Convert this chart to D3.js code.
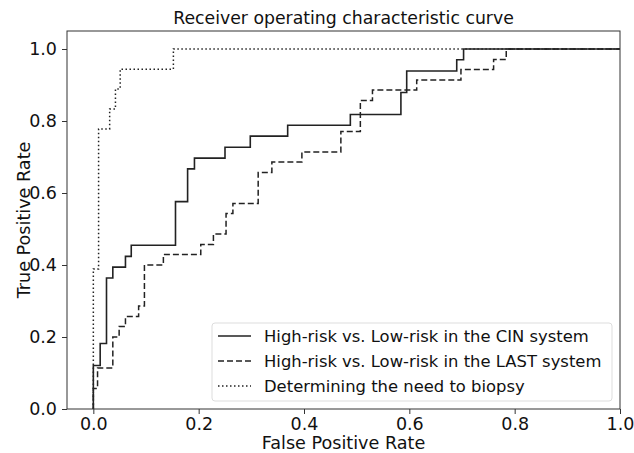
<!DOCTYPE html>
<html>
<head>
<meta charset="utf-8">
<script src="https://cdn.jsdelivr.net/npm/d3@7"></script>
<style>
  body { margin: 0; background: #fff; }
  text { font-family: "DejaVu Sans", sans-serif; fill: #111; }
</style>
</head>
<body>
<div id="chart"></div>
<script>
// ROC step curves: [fpr, tpr]
const cinCurve = [
  [0, 0], [0, 0.121], [0.013, 0.121], [0.013, 0.182], [0.025, 0.182], [0.025, 0.364],
  [0.037, 0.364], [0.037, 0.394], [0.061, 0.394], [0.061, 0.424], [0.072, 0.424],
  [0.072, 0.455], [0.156, 0.455], [0.156, 0.576], [0.179, 0.576], [0.179, 0.667],
  [0.192, 0.667], [0.192, 0.697], [0.25, 0.697], [0.25, 0.727], [0.298, 0.727],
  [0.298, 0.758], [0.369, 0.758], [0.369, 0.788], [0.488, 0.788], [0.488, 0.818],
  [0.584, 0.818], [0.584, 0.879], [0.595, 0.879], [0.595, 0.939], [0.69, 0.939],
  [0.69, 0.97], [0.703, 0.97], [0.703, 1], [1, 1]
];
const lastCurve = [
  [0, 0], [0, 0.057], [0.008, 0.057], [0.008, 0.114], [0.037, 0.114], [0.037, 0.2],
  [0.049, 0.2], [0.049, 0.229], [0.061, 0.229], [0.061, 0.257], [0.086, 0.257],
  [0.086, 0.286], [0.097, 0.286], [0.097, 0.4], [0.133, 0.4], [0.133, 0.429],
  [0.204, 0.429], [0.204, 0.457], [0.228, 0.457], [0.228, 0.486], [0.252, 0.486],
  [0.252, 0.543], [0.265, 0.543], [0.265, 0.571], [0.313, 0.571], [0.313, 0.657],
  [0.339, 0.657], [0.339, 0.686], [0.396, 0.686], [0.396, 0.714], [0.47, 0.714],
  [0.47, 0.771], [0.507, 0.771], [0.507, 0.857], [0.53, 0.857], [0.53, 0.886],
  [0.614, 0.886], [0.614, 0.914], [0.698, 0.914], [0.698, 0.943], [0.76, 0.943],
  [0.76, 0.971], [0.784, 0.971], [0.784, 1], [1, 1]
];
const biopsyCurve = [
  [0, 0], [0, 0.389], [0.01, 0.389], [0.01, 0.778], [0.031, 0.778], [0.031, 0.833],
  [0.042, 0.833], [0.042, 0.889], [0.051, 0.889], [0.051, 0.944], [0.152, 0.944],
  [0.152, 1], [1, 1]
];
const seriesNames = [
  "High-risk vs. Low-risk in the CIN system",
  "High-risk vs. Low-risk in the LAST system",
  "Determining the need to biopsy"
];
const tickValues = [0, 0.2, 0.4, 0.6, 0.8, 1.0];

const W = 634, H = 453;
const m = { left: 67, right: 14, top: 31, bottom: 44 };

const svg = d3.select("#chart").append("svg")
  .attr("width", W).attr("height", H);

const x = d3.scaleLinear().domain([-0.05, 1.0]).range([m.left, W - m.right]);
const y = d3.scaleLinear().domain([0, 1.05]).range([H - m.bottom, m.top]);

// lines
const line = d3.line().x(d => x(d[0])).y(d => y(d[1]));
const styles = [
  { dash: null, width: 1.6 },
  { dash: "6,3", width: 1.5 },
  { dash: "1.5,2.5", width: 1.5 }
];
[cinCurve, lastCurve, biopsyCurve].forEach((c, i) => {
  svg.append("path")
    .datum(c)
    .attr("d", line)
    .attr("fill", "none")
    .attr("stroke", "#222")
    .attr("stroke-width", styles[i].width)
    .attr("stroke-dasharray", styles[i].dash);
});

// axes
const fmt = d3.format(".1f");
const xAxis = svg.append("g")
  .attr("transform", `translate(0,${H - m.bottom})`)
  .call(d3.axisBottom(x).tickValues(tickValues).tickFormat(fmt).tickSize(5).tickPadding(4));
const yAxis = svg.append("g")
  .attr("transform", `translate(${m.left},0)`)
  .call(d3.axisLeft(y).tickValues(tickValues).tickFormat(fmt).tickSize(5).tickPadding(5));
[xAxis, yAxis].forEach(g => {
  g.select(".domain").remove();
  g.selectAll(".tick line").attr("stroke", "#333");
  g.selectAll(".tick text").style("font-size", "17.5px").style("font-family", "DejaVu Sans").attr("fill", "#111");
});

// frame
svg.append("rect")
  .attr("x", m.left).attr("y", m.top)
  .attr("width", W - m.right - m.left).attr("height", H - m.bottom - m.top)
  .attr("fill", "none").attr("stroke", "#333").attr("stroke-width", 1);

// titles
svg.append("text")
  .attr("x", (m.left + W - m.right) / 2).attr("y", 24)
  .attr("text-anchor", "middle").style("font-size", "17.3px")
  .text("Receiver operating characteristic curve");
svg.append("text")
  .attr("x", (m.left + W - m.right) / 2).attr("y", 449)
  .attr("text-anchor", "middle").style("font-size", "17.6px")
  .text("False Positive Rate");
svg.append("text")
  .attr("transform", `translate(30,${(m.top + H - m.bottom) / 2}) rotate(-90)`)
  .attr("text-anchor", "middle").style("font-size", "17.6px")
  .text("True Positive Rate");

// legend
const lg = svg.append("g").attr("transform", "translate(212,323)");
lg.append("rect")
  .attr("width", 400).attr("height", 78).attr("rx", 3)
  .attr("fill", "#fff").attr("fill-opacity", 0.85)
  .attr("stroke", "#ddd");
seriesNames.forEach((name, i) => {
  const yy = 13 + i * 25;
  lg.append("line")
    .attr("x1", 6).attr("x2", 39).attr("y1", yy).attr("y2", yy)
    .attr("stroke", "#222").attr("stroke-width", styles[i].width)
    .attr("stroke-dasharray", styles[i].dash);
  lg.append("text")
    .attr("x", 52).attr("y", yy + 6)
    .style("font-size", "16.4px")
    .text(name);
});
</script>
</body>
</html>
